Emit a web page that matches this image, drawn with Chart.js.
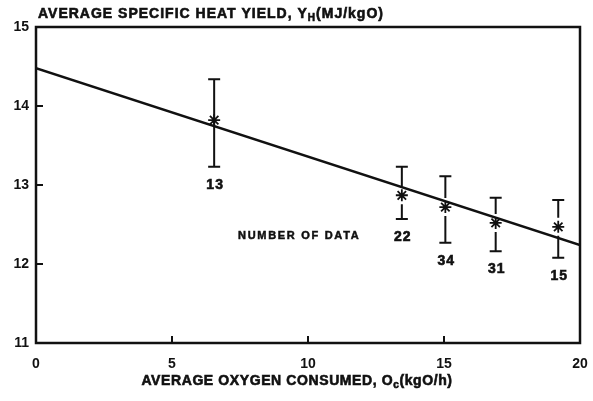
<!DOCTYPE html>
<html>
<head>
<meta charset="utf-8">
<script src="https://cdn.jsdelivr.net/npm/chart.js@4/dist/chart.umd.min.js"></script>
<style>
  html, body { margin: 0; padding: 0; background: #fff; }
  #c { display: block; }
</style>
</head>
<body>
<canvas id="c" width="593" height="401"></canvas>
<script>
// ---- data ----
const xTickValues = [0, 5, 10, 15, 20];
const yTickValues = [11, 12, 13, 14, 15];
const oxygenConsumed = [6.55, 13.45, 15.05, 16.9, 19.2];
const heatYield = [13.82, 12.87, 12.72, 12.52, 12.47];
const yieldUpper = [14.34, 13.23, 13.11, 12.84, 12.81];
const yieldLower = [13.23, 12.57, 12.27, 12.16, 12.08];
const numberOfData = [13, 22, 34, 31, 15];
const fitX = [0, 20];
const fitY = [14.48, 12.24];

const yTitleParts = [["AVERAGE SPECIFIC HEAT YIELD, Y", false], ["H", true], ["(MJ/kgO)", false]];
const xTitleParts = [["AVERAGE OXYGEN CONSUMED, O", false], ["c", true], ["(kgO/h)", false]];
const noteText = "NUMBER OF DATA";

const INK = '#111';
const FONT = '"Liberation Sans", Arial, sans-serif';

function drawParts(ctx, parts, x, y, size, spacing) {
  let cx = x;
  for (const [t, sub] of parts) {
    const s = sub ? Math.round(size * 0.7) : size;
    ctx.font = 'bold ' + s + 'px ' + FONT;
    ctx.letterSpacing = spacing + 'px';
    ctx.fillText(t, cx, sub ? y + 4 : y);
    ctx.strokeText(t, cx, sub ? y + 4 : y);
    cx += ctx.measureText(t).width;
  }
  return cx - x;
}
function partsWidth(ctx, parts, size, spacing) {
  let w = 0;
  for (const [t, sub] of parts) {
    const s = sub ? Math.round(size * 0.7) : size;
    ctx.font = 'bold ' + s + 'px ' + FONT;
    ctx.letterSpacing = spacing + 'px';
    w += ctx.measureText(t).width;
  }
  return w;
}

const decorPlugin = {
  id: 'decor',
  afterDatasetsDraw(chart) {
    const ctx = chart.ctx;
    const xs = chart.scales.x, ys = chart.scales.y;
    const a = chart.chartArea;
    ctx.save();
    ctx.strokeStyle = INK;
    ctx.fillStyle = INK;
    // frame
    ctx.lineWidth = 2.5;
    ctx.strokeRect(a.left, a.top, a.right - a.left, a.bottom - a.top);
    // inward ticks
    ctx.lineWidth = 2;
    for (const v of xTickValues) {
      if (v === xs.min || v === xs.max) continue;
      const px = xs.getPixelForValue(v);
      ctx.beginPath(); ctx.moveTo(px, a.bottom); ctx.lineTo(px, a.bottom - 7); ctx.stroke();
    }
    for (const v of yTickValues) {
      if (v === ys.min || v === ys.max) continue;
      const py = ys.getPixelForValue(v);
      ctx.beginPath(); ctx.moveTo(a.left, py); ctx.lineTo(a.left + 7, py); ctx.stroke();
    }
    // error bars
    for (let i = 0; i < oxygenConsumed.length; i++) {
      const px = xs.getPixelForValue(oxygenConsumed[i]);
      const pm = ys.getPixelForValue(heatYield[i]);
      const pu = ys.getPixelForValue(yieldUpper[i]);
      const pl = ys.getPixelForValue(yieldLower[i]);
      const gap = i === 0 ? 0 : 9;
      ctx.lineWidth = 2;
      ctx.beginPath();
      ctx.moveTo(px, pu); ctx.lineTo(px, pm - gap);
      ctx.moveTo(px, pm + gap); ctx.lineTo(px, pl);
      ctx.moveTo(px - 6, pu); ctx.lineTo(px + 6, pu);
      ctx.moveTo(px - 6, pl); ctx.lineTo(px + 6, pl);
      ctx.stroke();
      // count label
      ctx.lineWidth = 0.6;
      ctx.font = 'bold 14px ' + FONT;
      ctx.letterSpacing = '1px';
      ctx.textAlign = 'center';
      ctx.textBaseline = 'middle';
      ctx.fillText(String(numberOfData[i]), px + 1, pl + 18);
      ctx.strokeText(String(numberOfData[i]), px + 1, pl + 18);
    }
    // note
    ctx.lineWidth = 0.5;
    ctx.font = 'bold 11px ' + FONT;
    ctx.letterSpacing = '1.7px';
    ctx.textAlign = 'left';
    ctx.textBaseline = 'middle';
    ctx.fillText(noteText, 238, 236);
    ctx.strokeText(noteText, 238, 236);
    // titles
    ctx.lineWidth = 0.6;
    ctx.textAlign = 'left';
    ctx.textBaseline = 'middle';
    drawParts(ctx, yTitleParts, 38, 14, 14, 1.0);
    const w = partsWidth(ctx, xTitleParts, 14, 0.6);
    drawParts(ctx, xTitleParts, 297 - w / 2, 381, 14, 0.6);
    ctx.restore();
  }
};

const ctx = document.getElementById('c').getContext('2d');
new Chart(ctx, {
  type: 'scatter',
  data: {
    datasets: [
      {
        type: 'line',
        data: fitX.map((x, i) => ({ x, y: fitY[i] })),
        borderColor: INK,
        borderWidth: 2.5,
        pointRadius: 0,
        fill: false
      },
      {
        data: oxygenConsumed.map((x, i) => ({ x, y: heatYield[i] })),
        pointStyle: 'star',
        pointRadius: 6,
        borderColor: INK,
        backgroundColor: INK,
        borderWidth: 1.8
      }
    ]
  },
  options: {
    responsive: false,
    animation: false,
    devicePixelRatio: 1,
    layout: { padding: { top: 27, right: 13, left: 0, bottom: 0 } },
    plugins: { legend: { display: false }, tooltip: { enabled: false } },
    scales: {
      x: {
        type: 'linear', min: 0, max: 20,
        afterFit(s) { s.height = 58; s.paddingLeft = 0; s.paddingRight = 0; },
        afterBuildTicks(s) { s.ticks = xTickValues.map(v => ({ value: v })); },
        grid: { display: false, drawTicks: false },
        border: { display: false },
        ticks: { color: INK, padding: 13, font: { family: FONT, size: 14, weight: 'bold' } }
      },
      y: {
        type: 'linear', min: 11, max: 15,
        afterFit(s) { s.width = 36; s.paddingTop = 0; s.paddingBottom = 0; },
        afterBuildTicks(s) { s.ticks = yTickValues.map(v => ({ value: v })); },
        grid: { display: false, drawTicks: false },
        border: { display: false },
        ticks: { color: INK, padding: 7, font: { family: FONT, size: 14, weight: 'bold' } }
      }
    }
  },
  plugins: [decorPlugin]
});
</script>
</body>
</html>
